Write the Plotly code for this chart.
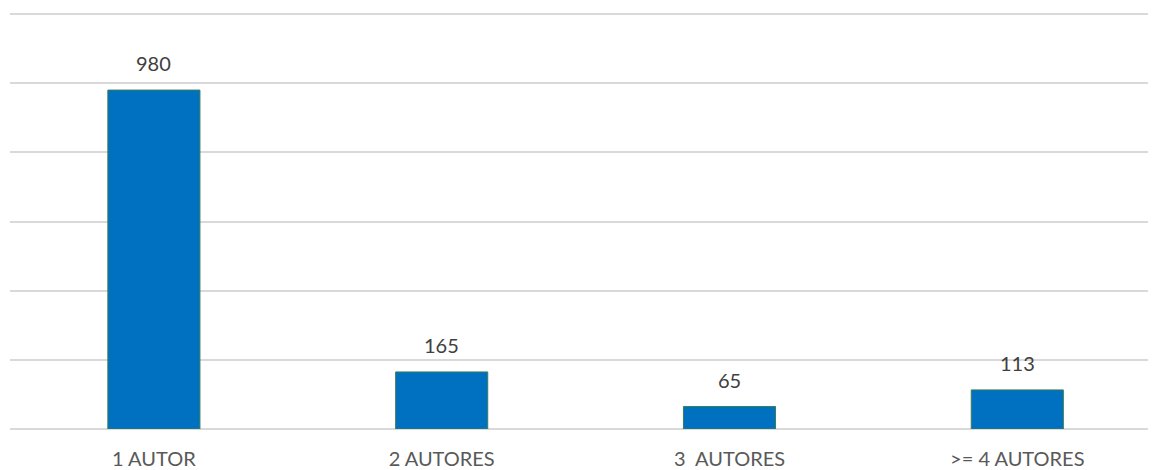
import plotly.graph_objects as go

# Dados
categorias = ['1 AUTOR', '2 AUTORES', '3  AUTORES', '>= 4 AUTORES']
valores = [980, 165, 65, 113]

fig = go.Figure()

fig.add_trace(go.Bar(
    x=categorias,
    y=valores,
    width=0.32,
    marker=dict(color='#0070C0', line=dict(color='#3A7D55', width=1)),
    hoverinfo='x+y'
))

# Rótulos de valor acima das barras
for cat, val in zip(categorias, valores):
    fig.add_annotation(
        x=cat, y=val, text=str(val),
        showarrow=False, yanchor='bottom', yshift=13,
        font=dict(family='Lato', size=20, color='#404040')
    )

# a página tem margem de 8px no body
fig.update_layout(
    width=1148,
    height=462,
    margin=dict(l=2, r=0, t=3, b=41, autoexpand=False),
    plot_bgcolor='white',
    paper_bgcolor='white',
    showlegend=False,
    xaxis=dict(
        range=[-0.5, 3.482],
        showgrid=False,
        showline=False,
        ticks='',
        automargin=False,
        ticklabelstandoff=16,
        tickfont=dict(family='Lato', size=20, color='#595959')
    ),
    yaxis=dict(
        range=[0, 1208.7],
        dtick=200,
        showticklabels=False,
        automargin=False,
        showgrid=True,
        gridcolor='#D9D9D9',
        gridwidth=1.5,
        zeroline=True,
        zerolinecolor='#D9D9D9',
        zerolinewidth=1.5
    )
)

fig.write_html("out.html")
